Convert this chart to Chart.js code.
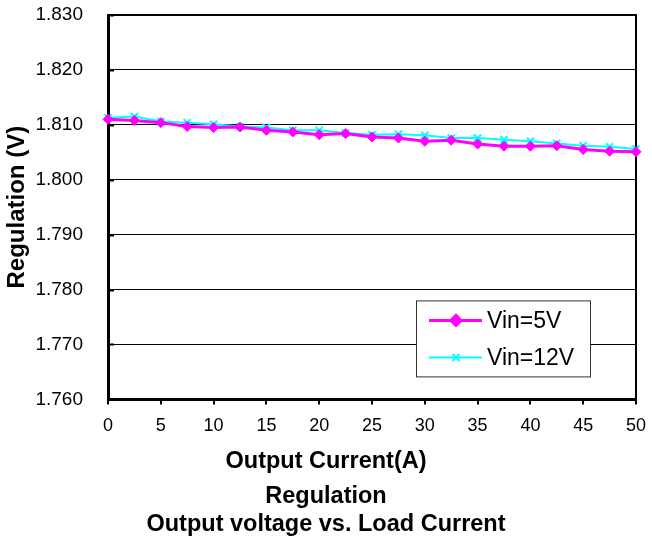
<!DOCTYPE html>
<html>
<head>
<meta charset="utf-8">
<script src="https://cdn.jsdelivr.net/npm/chart.js@4/dist/chart.umd.min.js"></script>
<style>
  body { margin: 0; background: #fff; }
  canvas { display: block; }
</style>
</head>
<body>
<canvas id="regChart" width="652" height="539"></canvas>
<script>
// Output current (A), one reading every 2.5 A
const currents = [0, 2.5, 5, 7.5, 10, 12.5, 15, 17.5, 20, 22.5, 25, 27.5, 30, 32.5, 35, 37.5, 40, 42.5, 45, 47.5, 50];
// Output voltage (V)
const vin5V = [1.8110, 1.8108, 1.8104, 1.8097, 1.8095, 1.8096, 1.8090, 1.8087, 1.8082, 1.8084, 1.8078,
               1.8076, 1.8070, 1.8072, 1.8065, 1.8061, 1.8061, 1.8062, 1.8055, 1.8052, 1.8051];
const vin12V = [1.8113, 1.8115, 1.8106, 1.8104, 1.8101, 1.8097, 1.8095, 1.8090, 1.8090, 1.8085, 1.8082,
                1.8083, 1.8081, 1.8076, 1.8076, 1.8073, 1.8070, 1.8066, 1.8062, 1.8060, 1.8056];
const seriesNames = ['Vin=5V', 'Vin=12V'];
const xTicks = [0, 5, 10, 15, 20, 25, 30, 35, 40, 45, 50];
const yTicks = [1.760, 1.770, 1.780, 1.790, 1.800, 1.810, 1.820, 1.830];

const FONT = '"Liberation Sans", Arial, sans-serif';

function toPoints(xs, ys) {
    return xs.map((x, i) => ({ x: x, y: ys[i] }));
}

// black frame round the plot area plus the short inward ticks on the y axis
const framePlugin = {
    id: 'frame',
    beforeDatasetsDraw(chart) {
        const { ctx, chartArea: a } = chart;
        const yScale = chart.scales.y;
        ctx.save();
        ctx.strokeStyle = '#000';
        ctx.lineWidth = 2;
        ctx.strokeRect(a.left, a.top, a.right - a.left, a.bottom - a.top);
        yTicks.forEach(v => {
            const py = Math.round(yScale.getPixelForValue(v)) + 0.5;
            ctx.beginPath();
            ctx.moveTo(a.left, py);
            ctx.lineTo(a.left + 6, py);
            ctx.stroke();
        });
        ctx.restore();
    }
};

// boxed legend sitting inside the plot, lower right
const legendBoxPlugin = {
    id: 'legendBox',
    afterDraw(chart) {
        const { ctx, chartArea: a } = chart;
        const left = a.right - 220, top = a.bottom - 99, w = 174, h = 76;
        ctx.save();
        ctx.fillStyle = '#fff';
        ctx.fillRect(left, top, w, h);
        ctx.strokeStyle = '#333';
        ctx.lineWidth = 1;
        ctx.strokeRect(left + 0.5, top + 0.5, w, h);
        chart.data.datasets.forEach((ds, i) => {
            const y = top + 20 + i * 37;
            ctx.strokeStyle = ds.borderColor;
            ctx.lineWidth = ds.borderWidth;
            ctx.beginPath();
            ctx.moveTo(left + 13, y);
            ctx.lineTo(left + 66, y);
            ctx.stroke();
            ctx.fillStyle = ds.pointBackgroundColor;
            ctx.strokeStyle = ds.pointBorderColor;
            Chart.helpers.drawPoint(ctx, {
                pointStyle: ds.pointStyle,
                radius: ds.pointRadius,
                rotation: 0,
                borderWidth: ds.pointBorderWidth
            }, left + 40, y);
            ctx.fillStyle = '#000';
            ctx.font = '23px ' + FONT;
            ctx.textAlign = 'left';
            ctx.textBaseline = 'middle';
            ctx.fillText(ds.label, left + 71, y + 1);
        });
        ctx.restore();
    }
};

const ctx = document.getElementById('regChart').getContext('2d');
new Chart(ctx, {
    type: 'line',
    data: {
        datasets: [{
            label: seriesNames[0],
            data: toPoints(currents, vin5V),
            borderColor: '#ff00ff',
            backgroundColor: '#ff00ff',
            borderWidth: 3,
            pointStyle: 'rectRot',
            pointRadius: 5,
            pointBorderWidth: 1,
            pointBorderColor: '#ff00ff',
            pointBackgroundColor: '#ff00ff',
            tension: 0,
            clip: false
        }, {
            label: seriesNames[1],
            data: toPoints(currents, vin12V),
            borderColor: '#00ffff',
            backgroundColor: '#00ffff',
            borderWidth: 2,
            pointStyle: 'crossRot',
            pointRadius: 5,
            pointBorderWidth: 2,
            pointBorderColor: '#00ffff',
            pointBackgroundColor: '#00ffff',
            tension: 0,
            clip: false
        }]
    },
    options: {
        responsive: false,
        animation: false,
        devicePixelRatio: 1,
        layout: { padding: { top: 15, right: 16, left: 16, bottom: 0 } },
        scales: {
            x: {
                type: 'linear',
                min: xTicks[0],
                max: xTicks[xTicks.length - 1],
                afterBuildTicks: scale => { scale.ticks = xTicks.map(v => ({ value: v })); },
                afterFit: scale => {
                    scale.height = 40;
                    scale.paddingLeft = 0;
                    scale.paddingRight = 0;
                },
                border: { display: true, color: '#000', width: 3 },
                grid: { drawOnChartArea: false, drawTicks: true, tickLength: 5, color: '#000', lineWidth: 2 },
                ticks: { color: '#000', font: { family: FONT, size: 18 }, padding: 11, maxRotation: 0 }
            },
            y: {
                min: yTicks[0],
                max: yTicks[yTicks.length - 1],
                afterBuildTicks: scale => { scale.ticks = yTicks.map(v => ({ value: v })); },
                afterFit: scale => {
                    scale.width = 92;
                    scale.paddingTop = 0;
                    scale.paddingBottom = 0;
                },
                border: { display: true, color: '#000', width: 3 },
                grid: { color: '#000', lineWidth: 1, drawTicks: false },
                ticks: {
                    color: '#000',
                    font: { family: FONT, size: 19 },
                    padding: 25,
                    callback: v => Number(v).toFixed(3)
                },
                title: {
                    display: true,
                    text: 'Regulation (V)',
                    color: '#000',
                    font: { family: FONT, size: 24, weight: 'bold' },
                    padding: { top: -13, bottom: 4 }
                }
            }
        },
        plugins: {
            legend: { display: false },
            tooltip: { enabled: false },
            subtitle: {
                display: true,
                position: 'bottom',
                text: 'Output Current(A)',
                color: '#000',
                font: { family: FONT, size: 23.5, weight: 'bold' },
                padding: { top: 8, bottom: 7 }
            },
            title: {
                display: true,
                position: 'bottom',
                text: ['Regulation', 'Output voltage vs. Load Current'],
                color: '#000',
                font: { family: FONT, size: 23.5, weight: 'bold' },
                lineHeight: 1.15,
                padding: { top: 0, bottom: 0 }
            }
        }
    },
    plugins: [framePlugin, legendBoxPlugin]
});
</script>
</body>
</html>
